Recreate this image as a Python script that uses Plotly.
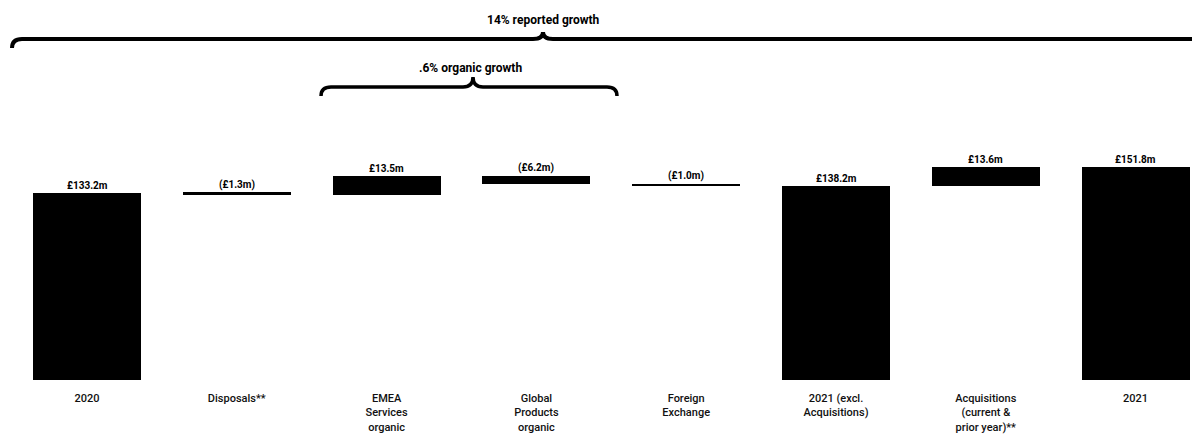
import plotly.graph_objects as go

# ---- data ----
categories = ["2020", "Disposals**", "EMEA<br>Services<br>organic", "Global<br>Products<br>organic",
              "Foreign<br>Exchange", "2021 (excl.<br>Acquisitions)", "Acquisitions<br>(current &<br>prior year)**", "2021"]
measures = ["total", "relative", "relative", "relative", "relative", "total", "relative", "total"]
values = [133.2, -1.3, 13.5, -6.2, -1.0, 138.2, 13.6, 151.8]
value_labels = ["£133.2m", "(£1.3m)", "£13.5m", "(£6.2m)", "(£1.0m)", "£138.2m", "£13.6m", "£151.8m"]

# ---- build waterfall geometry from data ----
bases, heights, tops = [], [], []
running = 0.0
for m, v in zip(measures, values):
    if m == "total":
        bases.append(0.0)
        heights.append(v)
        running = v
        tops.append(v)
    else:
        bases.append(running)
        heights.append(v)
        tops.append(max(running, running + v))
        running = running + v

xpos = list(range(len(categories)))

PX_PER_UNIT_X = 149.8
PX_PER_UNIT_Y = 1.405
PLOT_H = 380
W, H = 1192, 434
x_left = -87 / PX_PER_UNIT_X
x_right = x_left + W / PX_PER_UNIT_X
y_top = PLOT_H / PX_PER_UNIT_Y

def ypx(p):  # pixel row -> data value
    return (PLOT_H - p) / PX_PER_UNIT_Y

def xpx(p):
    return x_left + p / PX_PER_UNIT_X

fig = go.Figure()
fig.add_trace(go.Bar(
    x=xpos, y=heights, base=bases, width=0.721,
    marker=dict(color="#000000", line=dict(width=0)),
    hoverinfo="skip", showlegend=False,
))

label_font = dict(family="Roboto", size=10, color="#000000", weight="bold")
for x, t, lab in zip(xpos, tops, value_labels):
    fig.add_annotation(x=x, y=t, text=lab, showarrow=False, yanchor="bottom",
                       yshift=0, font=label_font)

# ---- brackets ----
dx = 10 / PX_PER_UNIT_X
dy = 7 / PX_PER_UNIT_Y

# big bracket
bx0, bpk = xpx(12), xpx(543)
by, bylow, bypk = ypx(39), ypx(48), ypx(32)
bx1 = x_right + 0.3
big_path = (f"M {bx0},{bylow} Q {bx0},{by} {bx0+dx},{by} L {bpk-dx},{by} "
            f"Q {bpk},{by} {bpk},{bypk} Q {bpk},{by} {bpk+dx},{by} L {bx1},{by}")
fig.add_shape(type="path", path=big_path, xref="x", yref="y",
              line=dict(color="#000000", width=4))

# small bracket
sx0, spk, sx1 = xpx(321), xpx(473), xpx(617)
sy, sylow, sypk = ypx(87), ypx(96), ypx(77)
small_path = (f"M {sx0},{sylow} Q {sx0},{sy} {sx0+dx},{sy} L {spk-dx},{sy} "
              f"Q {spk},{sy} {spk},{sypk} Q {spk},{sy} {spk+dx},{sy} L {sx1-dx},{sy} "
              f"Q {sx1},{sy} {sx1},{sylow}")
fig.add_shape(type="path", path=small_path, xref="x", yref="y",
              line=dict(color="#000000", width=3.5))

bracket_font = dict(family="Roboto", size=12, color="#000000", weight="bold")
fig.add_annotation(x=bpk, y=ypx(20), text="14% reported growth", showarrow=False,
                   font=bracket_font)
fig.add_annotation(x=xpx(470), y=ypx(68), text=".6% organic growth", showarrow=False,
                   font=bracket_font)

fig.update_layout(
    width=W, height=H,
    margin=dict(l=0, r=0, t=0, b=H - PLOT_H),
    paper_bgcolor="#ffffff", plot_bgcolor="#ffffff",
    bargap=0,
    xaxis=dict(range=[x_left, x_right], tickvals=xpos, ticktext=categories,
               showgrid=False, zeroline=False, showline=False, ticks="",
               ticklabelstandoff=10,
               tickfont=dict(family="Roboto", size=11, color="#111111", weight=500)),
    yaxis=dict(range=[0, y_top], visible=False, showgrid=False, zeroline=False),
)

fig.write_html("out.html")
